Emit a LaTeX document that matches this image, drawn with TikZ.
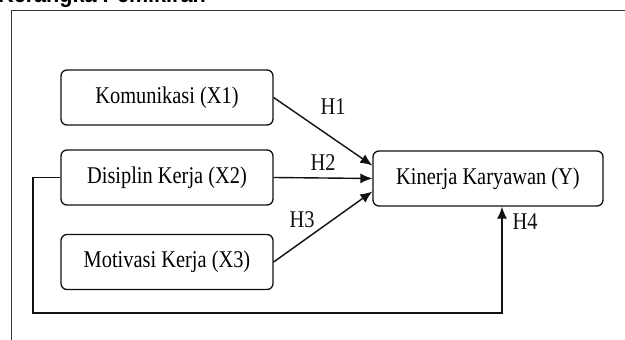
\documentclass[tikz,border=0pt]{standalone}
\usepackage{fontspec}
\usepackage{xcolor}
\usepackage{tikz}
\usetikzlibrary{calc,arrows.meta}
\newfontfamily\boxfont{Liberation Serif}[FakeStretch=0.85]
\newfontfamily\titlefont{Liberation Sans}[FakeStretch=0.9]
\definecolor{ink}{HTML}{111111}
\definecolor{frame}{HTML}{333333}
\tikzset{
  var/.style={draw=ink, line width=1.3pt, rounded corners=6pt, minimum width=212pt,
    minimum height=55pt, inner sep=0pt, font=\boxfont\fontsize{24}{28}\selectfont},
  link/.style={draw=ink, line width=1.4pt},
  arr/.style={link, -{Latex[length=12pt,width=10pt]}},
  hyp/.style={text=ink, inner sep=0pt, font=\boxfont\fontsize{24}{28}\selectfont},
  edge/.style={draw=frame, line width=1pt},
}

\begin{document}
\begin{tikzpicture}[x=1pt,y=1pt]
  \useasboundingbox (0,0) rectangle (625,340);
  % cut title and frame
  \node[anchor=base west, inner sep=0pt, font=\titlefont\bfseries\fontsize{24}{28}\selectfont] (title) at (-2,337) {Kerangka Pemikiran};
  \draw[edge] (11,0) -- (11,329) -- (625,329);
  % variables
  \node[var] (X1) at (167,242.5) {Komunikasi (X1)};
  \node[var] (X2) at (167,162.5) {Disiplin Kerja (X2)};
  \node[var] (X3) at (167,78) {Motivasi Kerja (X3)};
  \node[var, minimum width=230pt] (Y) at (488,161.5) {Kinerja Karyawan (Y)};
  % hypotheses
  \draw[arr] (X1.east) -- ($(Y.west)+(0,13)$);
  \draw[arr] (X2.east) -- (Y.west);
  \draw[arr] (X3.east) -- ($(Y.west)+(0,-13)$);
  \coordinate (loopL) at (33,27);
  \coordinate (loopR) at (502,27);
  \draw[arr] (X2.west) -| (loopL) -- (loopR) -- (loopR |- Y.south);
  \node[hyp] (h1) at (333,233) {H1};
  \node[hyp] (h2) at (323,177) {H2};
  \node[hyp] (h3) at (302,120) {H3};
  \node[hyp] (h4) at (525,118) {H4};
\end{tikzpicture}
\end{document}
